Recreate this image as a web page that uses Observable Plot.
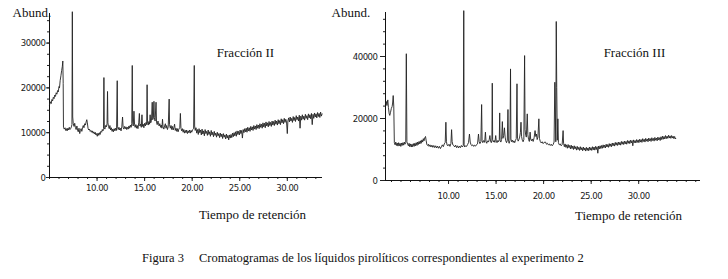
<!DOCTYPE html>
<html><head><meta charset="utf-8">
<script src="https://cdn.jsdelivr.net/npm/d3@7"></script>
<script src="https://cdn.jsdelivr.net/npm/@observablehq/plot@0.6"></script>
<style>
body{margin:0;background:#fff;}
#wrap{position:relative;width:728px;height:279px;overflow:hidden;font-family:"Liberation Serif","Times New Roman",serif;color:#111;}
#left{position:absolute;left:0;top:0;}
#right{position:absolute;left:330px;top:0;}
#caption{position:absolute;left:142px;top:251px;font-size:12.5px;white-space:nowrap;}
#caption span{margin-right:15px;}
svg{overflow:visible;}
g[aria-label$="tick label"] text{letter-spacing:-0.5px;}
</style></head>
<body><div id="wrap"><div id="left"></div><div id="right"></div>
<div id="caption"><span>Figura 3</span>Cromatogramas de los líquidos pirolíticos correspondientes al experimento 2</div></div>
<script>
// ---- data: [retention time (min), abundance] ----
const fraccionII = [
[5.00,16200],[5.10,16900],[5.18,16500],[5.25,17400],[5.33,17100],[5.40,17900],[5.48,17600],[5.55,18400],[5.63,18100],[5.70,18900],
[5.78,18600],[5.85,19400],[5.92,19100],[6.00,20300],[6.05,20000],[6.12,21600],[6.20,22700],[6.28,23900],[6.35,24800],[6.40,26000],
[6.44,21000],[6.47,11200],[6.55,10800],[6.63,11100],[6.70,10500],[6.78,10900],[6.85,10400],[6.93,11000],[7.00,10600],[7.08,11200],
[7.15,10700],[7.22,10900],[7.30,11300],[7.36,11800],[7.40,37000],[7.44,13500],[7.50,12000],[7.58,11400],[7.65,12100],[7.72,11200],
[7.80,10700],[7.88,11500],[7.95,10600],[8.02,10200],[8.10,11000],[8.18,9800],[8.25,10500],[8.32,10900],[8.40,10300],[8.48,11200],
[8.55,11600],[8.62,11100],[8.70,12000],[8.78,11700],[8.85,12400],[8.92,12900],[8.98,12200],[9.05,11000],[9.12,10600],[9.20,10800],
[9.28,10300],[9.35,10500],[9.42,10100],[9.50,10400],[9.58,9900],[9.65,10200],[9.72,9700],[9.80,10100],[9.88,9500],[9.95,9800],
[10.02,9200],[10.10,9900],[10.18,9400],[10.25,10000],[10.32,9600],[10.40,10300],[10.48,10100],[10.55,10700],[10.62,10400],[10.68,10900],
[10.72,22300],[10.76,11200],[10.82,10800],[10.90,11600],[10.98,11300],[11.05,12000],[11.10,19200],[11.14,12200],[11.20,11400],[11.28,10900],
[11.35,11600],[11.42,10600],[11.50,11100],[11.58,10300],[11.65,10800],[11.72,10200],[11.80,10900],[11.88,10400],[11.95,11000],[12.05,10500],
[12.12,21600],[12.16,11300],[12.22,10700],[12.30,11200],[12.38,10600],[12.45,11000],[12.52,10400],[12.60,11300],[12.68,13500],[12.74,11200],
[12.82,10800],[12.90,11400],[12.98,10900],[13.05,11300],[13.12,10700],[13.20,11200],[13.28,10800],[13.35,11500],[13.42,11000],[13.50,11700],
[13.58,11200],[13.65,12000],[13.70,25000],[13.74,12600],[13.80,11500],[13.88,14800],[13.94,11900],[14.00,11200],[14.08,11800],[14.15,11000],
[14.22,11600],[14.30,10900],[14.38,12200],[14.45,14300],[14.50,11500],[14.58,11900],[14.65,11200],[14.72,14000],[14.78,11400],[14.85,11900],
[14.92,11100],[15.00,12100],[15.08,11500],[15.15,12300],[15.22,11800],[15.26,20700],[15.30,12400],[15.38,11700],[15.45,12500],[15.52,11900],
[15.58,14000],[15.64,12200],[15.72,12700],[15.80,16800],[15.85,12900],[15.92,13300],[15.98,17000],[16.02,13400],[16.10,12600],[16.20,16800],
[16.25,12400],[16.32,11800],[16.40,12600],[16.45,12300],[16.52,11500],[16.60,12000],[16.68,11200],[16.75,11700],[16.82,11000],[16.88,13000],
[16.94,11300],[17.02,10800],[17.10,11500],[17.18,12000],[17.25,11000],[17.32,11600],[17.40,10700],[17.48,11300],[17.58,17500],[17.62,11800],
[17.70,11000],[17.78,11600],[17.85,10700],[17.92,11400],[18.00,10600],[18.08,11200],[18.15,11900],[18.22,10500],[18.30,11000],[18.38,10300],
[18.45,10900],[18.52,10200],[18.60,10800],[18.70,11200],[18.76,14300],[18.82,11000],[18.90,10400],[18.98,10900],[19.05,10100],[19.12,10700],
[19.20,9900],[19.28,10500],[19.35,10000],[19.42,10600],[19.50,9800],[19.58,10400],[19.65,10000],[19.72,10600],[19.80,9900],[19.88,10500],
[19.95,10100],[20.05,10700],[20.15,10900],[20.22,25000],[20.26,11500],
[20.32,10500],[20.40,11100],[20.48,9900],[20.56,10700],[20.64,9600],[20.72,10900],[20.80,10000],[20.88,10600],[20.96,9500],[21.04,10800],
[21.12,9700],[21.20,10400],[21.28,9300],[21.36,10700],[21.44,9800],[21.52,10300],[21.60,9400],[21.68,10600],[21.76,9600],[21.84,10200],
[21.92,9200],[22.00,10500],[22.08,9500],[22.16,10100],[22.24,9100],[22.32,10300],[22.40,9400],[22.48,9900],[22.56,9000],[22.64,10100],
[22.72,9300],[22.80,9800],[22.88,8900],[22.96,9900],[23.04,9100],[23.12,9700],[23.20,8700],[23.28,9800],[23.36,9000],[23.44,9500],
[23.52,8600],[23.60,9700],[23.68,8800],[23.76,9400],[23.84,8400],[23.92,9500],[24.00,8800],[24.08,9600],[24.16,8900],[24.24,9900],
[24.32,9100],[24.40,10000],[24.48,9300],[24.56,10200],[24.64,9200],[24.72,10400],[24.80,9600],[24.88,10300],[24.96,9500],[25.04,10600],
[25.12,9800],[25.20,10500],[25.28,8800],[25.36,10700],[25.44,10000],[25.52,10900],[25.60,10200],[25.68,11000],[25.76,10100],[25.84,11200],
[25.92,10400],[26.00,11100],[26.08,10300],[26.16,11400],[26.24,10600],[26.32,11300],[26.40,10500],[26.48,11600],[26.56,10800],[26.64,11500],
[26.72,10700],[26.80,11800],[26.88,11000],[26.96,11700],[27.04,10900],[27.12,12000],[27.20,11200],[27.28,11900],[27.36,11000],[27.44,12200],
[27.52,11300],[27.60,12100],[27.68,11100],[27.76,12400],[27.84,11500],[27.92,12200],[28.00,11300],[28.08,12500],[28.16,11600],[28.24,12300],
[28.32,11400],[28.40,12600],[28.48,11700],[28.56,12500],[28.64,11600],[28.72,12800],[28.80,11900],[28.88,12600],[28.96,11700],[29.04,12900],
[29.12,12000],[29.20,12700],[29.28,11800],[29.36,13100],[29.44,12200],[29.52,12900],[29.60,12000],[29.68,13200],[29.76,12300],[29.84,13000],
[29.92,12400],[30.00,9800],[30.06,12600],[30.14,13300],[30.22,12400],[30.30,13500],[30.38,12600],[30.46,13200],[30.54,12300],[30.62,13600],
[30.70,12700],[30.78,13400],[30.86,12500],[30.94,13800],[31.02,12900],[31.10,13500],[31.18,12600],[31.26,13900],[31.34,11000],[31.42,13700],
[31.50,12800],[31.58,14000],[31.66,13000],[31.74,13700],[31.82,12800],[31.90,14100],[31.98,13200],[32.06,13800],[32.14,12900],[32.22,14200],
[32.30,13300],[32.38,14000],[32.46,13100],[32.54,14300],[32.62,11800],[32.70,14100],[32.78,13200],[32.86,14400],[32.94,13500],[33.02,14200],
[33.10,13300],[33.18,14500],[33.26,13600],[33.34,14300],[33.42,13400],[33.50,14600],[33.58,13700],[33.66,14200]
];
const fraccionIII = [
[3.37,24700],[3.45,25500],[3.52,24200],[3.61,26000],[3.68,23500],[3.76,21500],[3.82,21000],[3.90,22000],[3.98,23200],[4.07,23900],
[4.12,25000],[4.18,27400],[4.24,24000],[4.30,12200],[4.38,11500],[4.45,12400],[4.52,11300],[4.60,12100],[4.68,11100],[4.75,12200],
[4.82,11200],[4.90,12000],[4.98,11000],[5.05,12100],[5.12,11300],[5.20,12200],[5.28,11400],[5.35,12400],[5.42,11700],[5.50,12300],
[5.56,40900],[5.62,12500],[5.70,11700],[5.78,11200],[5.85,12000],[5.92,10900],[6.00,11800],[6.08,10800],[6.15,11700],[6.22,10900],
[6.30,11900],[6.38,11000],[6.45,12000],[6.52,11200],[6.60,12200],[6.68,11300],[6.75,12400],[6.82,11600],[6.90,12600],[6.98,11800],
[7.05,12800],[7.12,12000],[7.20,13100],[7.28,12400],[7.35,13500],[7.42,12800],[7.50,13800],[7.58,14200],[7.65,12800],[7.72,11600],
[7.80,11300],[7.88,11700],[7.95,11000],[8.05,11500],[8.15,10800],[8.25,11400],[8.35,10700],[8.45,11300],[8.55,10600],[8.65,11200],
[8.75,10500],[8.85,11100],[8.95,10400],[9.05,11000],[9.15,10300],[9.25,10900],[9.35,11500],[9.45,10900],[9.55,11800],[9.65,12300],
[9.72,18800],[9.78,12500],[9.85,11400],[9.95,11200],[10.05,11700],[10.15,11000],[10.25,11900],[10.32,16400],[10.38,12600],[10.45,11500],
[10.55,11300],[10.65,10800],[10.75,11400],[10.85,10600],[10.95,11200],[11.05,10500],[11.15,11100],[11.25,10600],[11.35,11300],[11.45,10800],
[11.55,11300],[11.60,54800],[11.64,11500],[11.70,10800],[11.80,11200],[11.90,11000],[12.00,11600],[12.10,12200],[12.20,15000],[12.28,12400],
[12.36,11600],[12.45,11200],[12.55,11500],[12.65,11000],[12.75,11400],[12.85,11100],[12.95,11600],[13.05,11800],[13.15,15000],[13.22,12600],
[13.30,11900],[13.40,12500],[13.48,24500],[13.53,12800],[13.60,12200],[13.70,12900],[13.80,12300],[13.88,15600],[13.94,12600],[14.02,12000],
[14.10,12800],[14.20,12400],[14.28,13200],[14.35,14500],[14.42,12600],[14.50,12200],[14.56,13000],[14.60,31400],[14.64,13200],[14.72,12400],
[14.80,12900],[14.88,12300],[14.96,14500],[15.02,12700],[15.10,12200],[15.18,12900],[15.26,12500],[15.34,13200],[15.38,21800],[15.42,13000],
[15.50,12400],[15.58,13200],[15.66,19000],[15.72,13600],[15.80,14500],[15.88,17000],[15.95,14000],[16.02,12800],[16.10,12200],[16.18,13000],
[16.25,22900],[16.30,12600],[16.38,12000],[16.46,13000],[16.52,36000],[16.56,13400],[16.64,12500],[16.72,13000],[16.80,12300],[16.88,12800],
[16.96,12200],[17.04,12900],[17.12,13500],[17.20,31200],[17.25,13600],[17.32,12700],[17.40,13200],[17.48,14000],[17.56,15500],[17.62,18800],
[17.68,14200],[17.76,13000],[17.84,12500],[17.92,13200],[18.00,40300],[18.05,16500],[18.10,15000],[18.18,14000],[18.28,21500],[18.34,14800],
[18.42,13200],[18.50,12600],[18.58,15600],[18.64,13300],[18.72,12800],[18.80,13400],[18.90,12600],[19.00,13800],[19.10,16100],[19.18,14200],
[19.25,15000],[19.32,13200],[19.40,14000],[19.50,19900],[19.56,13600],[19.65,12600],[19.75,12100],[19.85,12500],[19.95,11900],[20.05,12300],
[20.20,12400],[20.30,11700],[20.40,12000],[20.50,11500],[20.60,11800],[20.70,11300],[20.80,11700],[20.90,11200],[21.00,11600],[21.10,12400],
[21.18,31700],[21.28,12500],[21.33,51300],[21.38,30000],[21.44,13000],[21.50,19900],[21.56,12200],[21.65,11500],[21.75,11800],[21.85,11200],
[21.95,11600],[22.05,16100],
[22.10,12000],[22.18,10900],[22.26,11800],[22.34,10700],[22.42,11500],[22.50,10400],[22.58,11600],[22.66,10600],[22.74,11300],[22.82,10200],
[22.90,11400],[22.98,10300],[23.06,11100],[23.14,10000],[23.22,11200],[23.30,10200],[23.38,10900],[23.46,9800],[23.54,11000],[23.62,10000],
[23.70,10700],[23.78,9700],[23.86,10900],[23.94,9900],[24.02,10600],[24.10,9600],[24.18,10800],[24.26,9800],[24.34,10500],[24.42,9500],
[24.50,10700],[24.58,9700],[24.66,10500],[24.74,9600],[24.82,10800],[24.90,9800],[24.98,10600],[25.06,9700],[25.14,10900],[25.22,9900],
[25.30,10800],[25.38,9800],[25.46,11000],[25.54,10000],[25.62,10900],[25.70,8800],[25.78,11100],[25.86,10200],[25.94,11200],[26.02,10300],
[26.10,11300],[26.18,10400],[26.26,11500],[26.34,10600],[26.42,11400],[26.50,10500],[26.58,11700],[26.66,10800],[26.74,11600],[26.82,10700],
[26.90,11900],[26.98,11000],[27.06,11800],[27.14,10900],[27.22,12100],[27.30,11200],[27.38,12000],[27.46,11100],[27.54,12300],[27.62,11400],
[27.70,12200],[27.78,11300],[27.86,12400],[27.94,11500],[28.02,12300],[28.10,11400],[28.18,12600],[28.26,11700],[28.34,12500],[28.42,11600],
[28.50,12700],[28.58,11800],[28.66,12600],[28.74,11700],[28.82,12900],[28.90,12000],[28.98,12800],[29.06,11900],[29.14,13000],[29.22,12100],
[29.30,12900],[29.38,11200],[29.46,13100],[29.54,12200],[29.62,12900],[29.70,12100],[29.78,13200],[29.86,12300],[29.94,13100],[30.02,12200],
[30.10,13300],[30.18,12400],[30.26,13200],[30.34,12300],[30.42,13500],[30.50,12600],[30.58,13300],[30.66,12400],[30.74,13600],[30.82,12700],
[30.90,13400],[30.98,12500],[31.06,13700],[31.14,12800],[31.22,13500],[31.30,12600],[31.38,13800],[31.46,12900],[31.54,13600],[31.62,12700],
[31.70,13900],[31.78,13000],[31.86,13700],[31.94,12800],[32.02,14000],[32.10,13100],[32.18,13800],[32.26,12900],[32.34,14100],[32.42,13200],
[32.50,14300],[32.58,13300],[32.66,14200],[32.74,13400],[32.82,14500],[32.90,13500],[32.98,14300],[33.06,13600],[33.14,14600],[33.22,13700],
[33.30,14400],[33.38,13600],[33.46,14500],[33.54,13700],[33.62,14300],[33.70,13500],[33.78,14200],[33.86,13400],[33.90,13600]
];
const xTicks = [10, 15, 20, 25, 30];
const yTicksII = [0, 10000, 20000, 30000];
const yTicksIII = [0, 20000, 40000];
const xDomainII = [5.0, 33.7];
const yDomainII = [0, 36600];
const xDomainIII = [3.37, 36.5];
const yDomainIII = [0, 54200];
const titles = ["Fracción II", "Fracción III"];
const yLabel = "Abund.";
const xLabel = "Tiempo de retención";

const tickFont = {fontFamily: '"Liberation Sans Narrow","DejaVu Sans Condensed","Arial Narrow","DejaVu Sans",sans-serif', fontSize: 9.5, fill: "#1a1a1a"};
const serif = '"Liberation Serif","Times New Roman",serif';

function chart(cfg) {
  const minorX = d3.range(Math.ceil(cfg.xDomain[0]), Math.floor(cfg.xDomain[1]) + 1);
  const minorY = d3.range(0, cfg.yDomain[1], cfg.minorStep);
  return Plot.plot({
    width: cfg.width, height: 225,
    marginLeft: cfg.ml, marginRight: cfg.mr, marginTop: cfg.mt, marginBottom: cfg.mb,
    style: {background: "#fff", overflow: "visible"},
    x: {domain: cfg.xDomain, axis: null},
    y: {domain: cfg.yDomain, axis: null},
    marks: [
      Plot.axisX({ticks: minorX, tickSize: 2, tickFormat: () => "", stroke: "#222"}),
      Plot.axisX({ticks: xTicks, tickSize: cfg.xTickSize, tickPadding: cfg.xTickPad, tickFormat: d => d.toFixed(2), stroke: "#222", label: null, ...tickFont}),
      Plot.axisY({ticks: minorY, tickSize: 2, tickFormat: () => "", stroke: "#222"}),
      Plot.axisY({ticks: cfg.yTicks, tickSize: cfg.yTickSize, tickPadding: cfg.yTickPad, tickFormat: d3.format("d"), stroke: "#222", label: null, ...tickFont}),
      Plot.ruleY([0], {stroke: "#111", strokeWidth: 1}),
      Plot.ruleX([cfg.xDomain[0]], {stroke: "#111", strokeWidth: 1}),
      Plot.line(cfg.data, {x: d => d[0], y: d => d[1], stroke: "#222", strokeWidth: 0.9}),
      Plot.text([yLabel], {frameAnchor: "top-left", dx: cfg.abDx, dy: cfg.abDy, textAnchor: "start", lineAnchor: "middle", fontFamily: serif, fontSize: 13, fill: "#111"}),
      Plot.text([cfg.title], {frameAnchor: "top-left", dx: cfg.tDx, dy: cfg.tDy, textAnchor: "middle", lineAnchor: "middle", fontFamily: serif, fontSize: 13, fill: "#111"}),
      Plot.text([xLabel], {frameAnchor: "bottom-left", dx: cfg.xlDx, dy: cfg.xlDy, textAnchor: "middle", lineAnchor: "middle", fontFamily: serif, fontSize: 13, fill: "#111"})
    ]
  });
}

document.getElementById("left").appendChild(chart({
  data: fraccionII, width: 330, ml: 49, mr: 8, mt: 13, mb: 48,
  xDomain: xDomainII, yDomain: yDomainII, yTicks: yTicksII, minorStep: 2500,
  xTickSize: 4, xTickPad: 3, yTickSize: 3, yTickPad: 1,
  title: titles[0], abDx: -37, abDy: -1, tDx: 196, tDy: 39, xlDx: 203, xlDy: 37
}));
document.getElementById("right").appendChild(chart({
  data: fraccionIII, width: 398, ml: 55, mr: 28, mt: 12, mb: 45,
  xDomain: xDomainIII, yDomain: yDomainIII, yTicks: yTicksIII, minorStep: 4000,
  xTickSize: 4, xTickPad: 8, yTickSize: 5, yTickPad: 3,
  title: titles[1], abDx: -54, abDy: 0, tDx: 249, tDy: 40, xlDx: 243, xlDy: 35
}));
</script></body></html>
